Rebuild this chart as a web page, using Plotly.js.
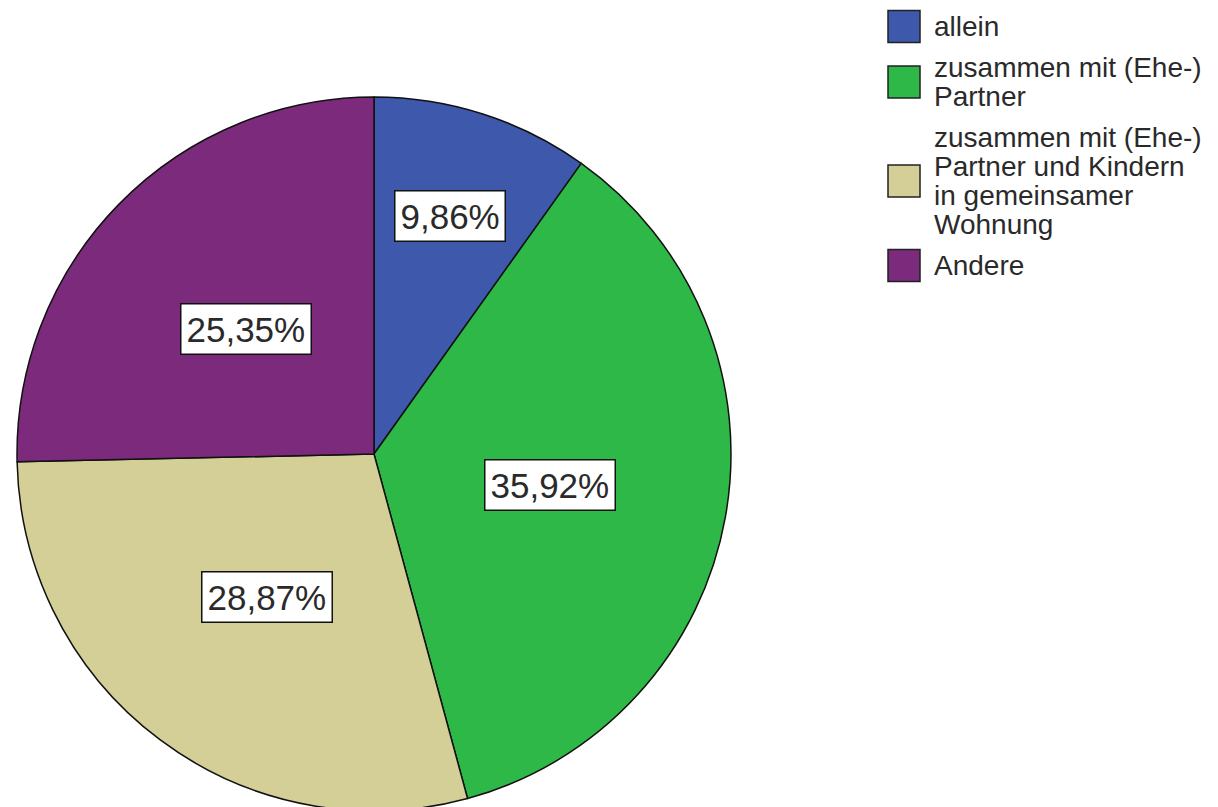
<!DOCTYPE html>
<html>
<head>
<meta charset="utf-8">
<script src="https://cdn.plot.ly/plotly-3.0.1.min.js"></script>
<style>
  html, body { margin: 0; padding: 0; overflow: hidden; background: #fff; }
  #chart { width: 1218px; height: 815px; }
</style>
</head>
<body>
<div id="chart"></div>
<script>
// ---- data ----
const categories = [
  "allein",
  "zusammen mit (Ehe-) Partner",
  "zusammen mit (Ehe-) Partner und Kindern in gemeinsamer Wohnung",
  "Andere"
];
const legendLines = [
  ["allein"],
  ["zusammen mit (Ehe-)", "Partner"],
  ["zusammen mit (Ehe-)", "Partner und Kindern", "in gemeinsamer", "Wohnung"],
  ["Andere"]
];
const percentages = [9.86, 35.92, 28.87, 25.35];
const percentLabels = ["9,86%", "35,92%", "28,87%", "25,35%"];
const colors = ["#3E58AC", "#2EB848", "#D4CE97", "#7B2A7C"];

// ---- layout constants ----
const W = 1218, H = 815;
const domX = [17 / W, 731 / W];
const domY = [4 / H, 718 / H];
const fontFam = "Liberation Sans, Arial, sans-serif";

const trace = {
  type: "pie",
  values: percentages,
  labels: categories,
  sort: false,
  direction: "clockwise",
  rotation: 0,
  textinfo: "none",
  hoverinfo: "label+percent",
  marker: { colors: colors, line: { color: "#111111", width: 1.5 } },
  domain: { x: domX, y: domY },
  showlegend: false
};

// label positions derived from the values (mid-angle of each slice)
const total = percentages.reduce((a, b) => a + b, 0);
const cxPx = (domX[0] + domX[1]) / 2 * W;
const cyPx = (domY[0] + domY[1]) / 2 * H;
const rPx = Math.min((domX[1] - domX[0]) * W, (domY[1] - domY[0]) * H) / 2;
const annotations = [];
let cum = 0;
percentages.forEach((v, i) => {
  const mid = (cum + v / 2) / total * 2 * Math.PI;
  cum += v;
  const f = (v / total) < 0.15 ? 0.7 : 0.5;
  const x = cxPx + rPx * f * Math.sin(mid);
  const y = cyPx + rPx * f * Math.cos(mid);
  annotations.push({
    xref: "paper", yref: "paper", x: x / W, y: y / H,
    xanchor: "center", yanchor: "middle", showarrow: false,
    text: percentLabels[i],
    font: { family: fontFam, size: 35, color: "#2a2a2a" },
    bgcolor: "#ffffff", bordercolor: "#111111", borderwidth: 1.5, borderpad: 5
  });
});

// custom legend
const shapes = [];
const lineH = 29, gap = 12, sw = 32, swX = 888, txtX = 932;
let itemTop = 26.5 - lineH / 2;
legendLines.forEach((lines, i) => {
  const n = lines.length;
  const c = itemTop + n * lineH / 2;
  shapes.push({
    type: "rect", xref: "paper", yref: "paper",
    x0: swX / W, x1: (swX + sw) / W,
    y0: (H - (c - sw / 2)) / H, y1: (H - (c + sw / 2)) / H,
    fillcolor: colors[i], line: { color: "#222222", width: 1.5 }
  });
  lines.forEach((t, k) => {
    const yc = c - (n - 1) * lineH / 2 + k * lineH;
    annotations.push({
      xref: "paper", yref: "paper", x: txtX / W, y: (H - yc) / H,
      xanchor: "left", yanchor: "middle", showarrow: false,
      text: t, font: { family: fontFam, size: 28, color: "#2a2a2a" }
    });
  });
  itemTop += n * lineH + gap;
});

const layout = {
  width: W, height: H,
  margin: { l: 0, r: 0, t: 0, b: 0 },
  paper_bgcolor: "#ffffff",
  showlegend: false,
  annotations: annotations,
  shapes: shapes
};

Plotly.newPlot("chart", [trace], layout, { displayModeBar: false, staticPlot: true });
</script>
</body>
</html>
